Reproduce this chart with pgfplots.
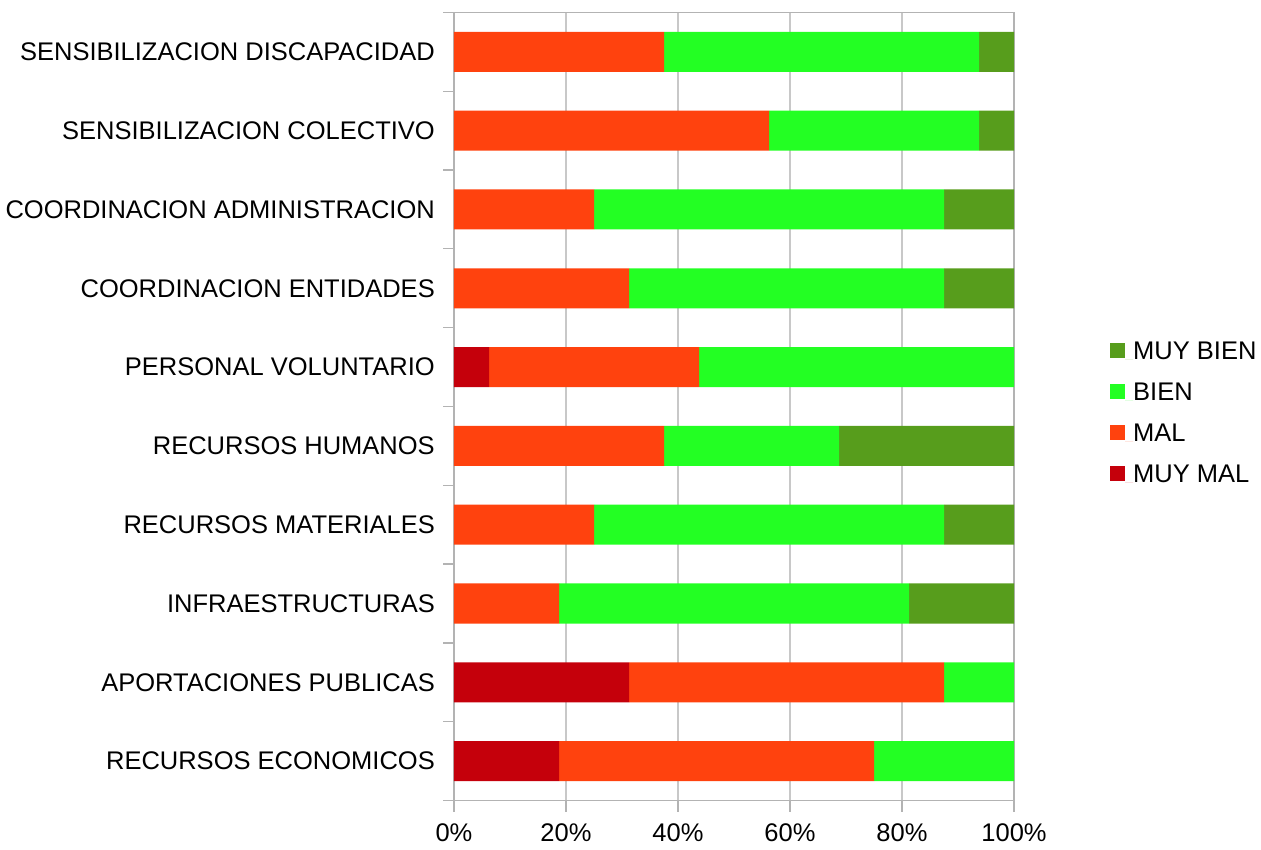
\documentclass[border=0pt]{standalone}
\usepackage{fontspec}
\setmainfont{Liberation Sans}
\usepackage{pgfplots}
\pgfplotsset{compat=1.18}
\definecolor{muybien}{HTML}{579D1C}
\definecolor{bien}{HTML}{23FF23}
\definecolor{mal}{HTML}{FF420E}
\definecolor{muymal}{HTML}{C5000B}
\definecolor{axisgray}{HTML}{B3B3B3}
\definecolor{gridgray}{HTML}{C8C8C8}
\begin{document}
\begin{tikzpicture}[font=\fontsize{25.5}{30}\selectfont]
\useasboundingbox (0,0) rectangle (1261pt,849pt);
\begin{axis}[
  at={(454pt,48.5pt)}, anchor=south west,
  scale only axis, width=560pt, height=788pt,
  xbar stacked, bar width=40pt,
  xmin=0, xmax=100, ymin=-0.5, ymax=9.5,
  xtick={0,20,40,60,80,100},
  xticklabels={0\%,20\%,40\%,60\%,80\%,100\%},
  ytick={0,1,2,3,4,5,6,7,8,9},
  yticklabels={RECURSOS ECONOMICOS,APORTACIONES PUBLICAS,INFRAESTRUCTURAS,RECURSOS MATERIALES,RECURSOS HUMANOS,PERSONAL VOLUNTARIO,COORDINACION ENTIDADES,COORDINACION ADMINISTRACION,SENSIBILIZACION COLECTIVO,SENSIBILIZACION DISCAPACIDAD},
  minor xtick={0,20,40,60,80,100},
  minor ytick={-0.5,0.5,1.5,2.5,3.5,4.5,5.5,6.5,7.5,8.5,9.5},
  xtick pos=bottom, ytick pos=left,
  major tick length=0pt, minor tick length=11pt, tick align=outside,
  tick style={axisgray, line width=1.2pt},
  xmajorgrids, major grid style={gridgray, line width=1.2pt},
  axis line style={axisgray, line width=1.2pt},
  xticklabel style={anchor=north, inner sep=0pt, yshift=-23pt},
  yticklabel style={anchor=east, inner sep=0pt, xshift=-19pt},
  legend style={at={(1,0.5)}, anchor=west, xshift=96pt, yshift=-6.5pt,
    draw=none, fill=none, inner sep=0pt, row sep=22pt,
    nodes={inner sep=0pt, anchor=base west}},
  legend cell align=left,
  reverse legend,
  legend image code/.code={\fill[#1] (0pt,1.5pt) rectangle (15pt,16.5pt); \path (15pt,0pt) -- (23pt,0pt);},
]
\addplot[fill=muymal, draw=none] coordinates {(18.75,0) (31.25,1) (0,2) (0,3) (0,4) (6.25,5) (0,6) (0,7) (0,8) (0,9)};
\addplot[fill=mal, draw=none] coordinates {(56.25,0) (56.25,1) (18.75,2) (25,3) (37.5,4) (37.5,5) (31.25,6) (25,7) (56.25,8) (37.5,9)};
\addplot[fill=bien, draw=none] coordinates {(25,0) (12.5,1) (62.5,2) (62.5,3) (31.25,4) (56.25,5) (56.25,6) (62.5,7) (37.5,8) (56.25,9)};
\addplot[fill=muybien, draw=none] coordinates {(0,0) (0,1) (18.75,2) (12.5,3) (31.25,4) (0,5) (12.5,6) (12.5,7) (6.25,8) (6.25,9)};
\legend{MUY MAL,MAL,BIEN,MUY BIEN}
\end{axis}
\end{tikzpicture}
\end{document}
